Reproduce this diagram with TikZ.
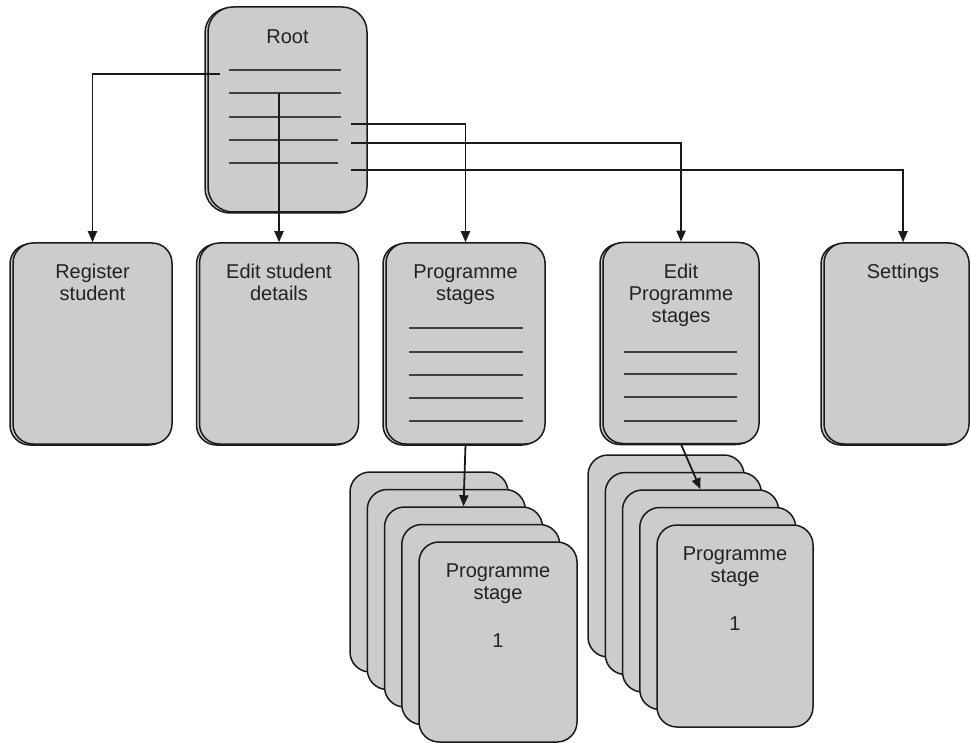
\documentclass[tikz,border=0pt]{standalone}
\usepackage{fontspec}
\setmainfont{Liberation Sans}
\usetikzlibrary{arrows.meta,shadows}
\definecolor{boxfill}{HTML}{CCCCCC}
\definecolor{ink}{HTML}{1A1A1A}
\definecolor{txt}{HTML}{222222}
\begin{document}
\begin{tikzpicture}[x=1pt,y=-1pt,
  screen/.style={draw=ink, line width=1.5pt, fill=boxfill, rounded corners=20pt,
    inner sep=0pt, minimum width=159pt, minimum height=201pt,
    copy shadow={shadow xshift=-3pt, shadow yshift=-1pt}},
  card/.style={draw=ink, line width=1.5pt, fill=boxfill, rounded corners=20pt,
    inner sep=0pt, minimum width=158pt, minimum height=200pt},
  title/.style={anchor=north, inner sep=0pt, align=center, text=txt,
    font=\fontsize{20}{22}\selectfont},
  rule/.style={draw=black!75, line width=1.2pt},
  link/.style={draw=ink, line width=1.8pt, -{Triangle[length=11pt,width=9pt]}},
  ]
\useasboundingbox (0,0) rectangle (971,743);

% main menu
\node[screen, rounded corners=25pt, minimum height=205pt] (root) at (287.5,109.5) {};
\node[title] (rootT) at ([yshift=-23pt]root.north) {Root};
\foreach \y/\e in {70/341,93/341,117/341,140/338,163/338}
  \draw[rule] (229,\y) -- (\e,\y);

% second-level screens
\node[screen] (reg) at (92.5,343.5) {};
\node[title] (regT) at ([yshift=-22pt]reg.north) {Register\\student};
\node[screen] (esd) at (279,343.5) {};
\node[title] (esdT) at ([yshift=-22pt]esd.north) {Edit student\\details};
\node[screen] (ps) at (465.5,343.5) {};
\node[title] (psT) at ([yshift=-22pt]ps.north) {Programme\\stages};
\node[screen, minimum width=156pt] (eps) at (681,343) {};
\node[title] (epsT) at ([yshift=-22pt]eps.north) {Edit\\Programme\\stages};
\node[screen, minimum width=145pt] (set) at (896.5,343.5) {};
\node[title] (setT) at ([xshift=6.5pt,yshift=-22pt]set.north) {Settings};

\foreach \y in {328,352,375,398,421}
  \draw[rule] (409,\y) -- (523,\y);
\foreach \y in {352,374,397,421}
  \draw[rule] (624,\y) -- (737,\y);

% stacks of stage screens
\foreach \k in {1,...,5}
  \node[card] (psc\k) at ({429+17.25*(\k-1)},{572+17.5*(\k-1)}) {};
\node[title] (pscT) at ([yshift=-22pt]psc5.north) {Programme\\stage\\[26pt]1};
\foreach \k in {1,...,5}
  \node[card, minimum width=156pt, minimum height=202pt] (epc\k) at ({666+17.25*(\k-1)},{556+17.5*(\k-1)}) {};
\node[title] (epcT) at ([yshift=-22pt]epc5.north) {Programme\\stage\\[26pt]1};

% menu links
\coordinate (r1) at (220,74);
\coordinate (r2) at (279,93);
\coordinate (r3) at (351,124);
\coordinate (r4) at (351,143);
\coordinate (r5) at (351,170);
\draw[link] (r1) -| (reg.north);
\draw[link] (r2) -- (esd.north);
\draw[link] (r3) -| (ps.north);
\draw[link] (r4) -| (eps.north);
\draw[link] (r5) -| ([xshift=6.5pt]set.north);
\draw[link] (ps.south) -- (psc3.north);
\draw[link] (eps.south) -- (epc3.north);
\end{tikzpicture}
\end{document}
